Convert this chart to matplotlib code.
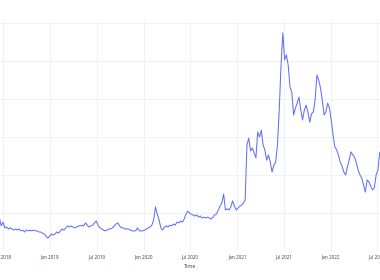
import matplotlib
matplotlib.use("Agg")
import matplotlib.pyplot as plt
import pandas as pd

# weekly observations starting 2018-06-10
start_date = "2018-06-10"
values = [
    8.9, 8.7, 6.6, 7.6, 6.1, 6.3, 5.8, 6.1, 5.8, 5.5,
    5.8, 5.5, 5.8, 5.3, 5.5, 5.0, 5.5, 5.3, 5.5, 5.3,
    5.5, 5.3, 5.3, 5.0, 5.0, 4.7, 4.5, 3.9, 3.4, 3.9,
    4.5, 4.2, 4.5, 5.0, 4.7, 5.3, 5.8, 5.5, 6.1, 6.6,
    6.3, 6.6, 6.3, 6.1, 6.3, 6.6, 6.6, 6.8, 6.6, 7.4,
    6.8, 6.3, 6.6, 6.8, 7.4, 7.9, 6.8, 6.1, 5.8, 5.5,
    5.3, 5.5, 5.8, 5.8, 6.1, 6.6, 7.1, 7.4, 6.6, 6.1,
    6.1, 5.8, 5.8, 5.8, 5.5, 5.3, 5.3, 5.3, 6.1, 5.3,
    5.3, 5.3, 5.5, 5.8, 6.1, 6.3, 6.8, 8.2, 11.6, 9.7,
    8.2, 6.1, 5.5, 6.3, 6.6, 6.3, 6.8, 6.6, 7.1, 6.8,
    7.6, 7.4, 7.9, 7.6, 8.4, 9.7, 10.5, 10.0, 9.7, 9.5,
    9.2, 9.5, 8.9, 9.2, 8.7, 8.9, 8.7, 8.9, 8.7, 8.4,
    8.9, 9.5, 9.7, 10.8, 11.8, 12.6, 15.0, 10.8, 11.1, 10.8,
    11.6, 13.2, 11.8, 10.8, 11.3, 11.8, 12.1, 12.6, 13.4, 27.9,
    29.7, 26.3, 27.1, 25.8, 24.5, 31.3, 30.0, 31.8, 27.9, 26.6,
    23.9, 25.3, 23.4, 20.8, 22.6, 23.4, 27.9, 37.1, 48.9, 57.4,
    50.3, 51.6, 48.9, 43.2, 41.8, 35.8, 37.6, 38.9, 40.5, 37.1,
    34.5, 37.1, 38.4, 36.6, 33.9, 36.1, 36.6, 39.7, 46.3, 45.0,
    42.9, 39.7, 35.8, 36.6, 38.9, 37.6, 34.5, 30.5, 27.4, 26.6,
    25.3, 23.4, 22.4, 20.8, 20.0, 22.1, 23.9, 26.1, 25.3, 24.7,
    23.2, 21.3, 20.0, 19.2, 17.4, 15.5, 18.7, 18.2, 17.1, 16.1,
    16.6, 20.0, 21.3, 25.8, 26.6,
]
dates = pd.date_range(start_date, periods=len(values), freq="7D")

tick_dates = ["2018-07-01", "2019-01-01", "2019-07-01", "2020-01-01",
              "2020-07-01", "2021-01-01", "2021-07-01", "2022-01-01",
              "2022-07-01"]
tick_labels = ["Jul 2018", "Jan 2019", "Jul 2019", "Jan 2020", "Jul 2020",
               "Jan 2021", "Jul 2021", "Jan 2022", "Jul 2022"]
x_range = ["2018-06-19 08:00", "2022-07-11 05:00"]
y_ticks = [0, 10, 20, 30, 40, 50, 60]

fig = plt.figure(figsize=(3.8, 2.8), dpi=100)
ax = fig.add_axes([0, 29 / 280, 1, 231 / 280])
ax.plot(dates, values, color="#636efa", lw=0.75)

ax.set_xlim(pd.Timestamp(x_range[0]), pd.Timestamp(x_range[1]))
ax.set_ylim(0, 60.8)
ax.set_xticks([pd.Timestamp(d) for d in tick_dates])
ax.set_xticklabels(tick_labels)
ax.set_yticks(y_ticks)
ax.tick_params(axis="y", left=False, labelleft=False)
ax.tick_params(axis="x", length=0, pad=2.2, labelsize=3.3, labelcolor="#2a3f5f")
for lab in ax.get_xticklabels():
    lab.set_fontfamily("Open Sans")
ax.grid(True, color="#EBF0F8", lw=0.55)
ax.set_axisbelow(True)
for s in ax.spines.values():
    s.set_visible(False)
ax.set_xlabel("Time", fontsize=3.9, color="#2a3f5f", family="Open Sans", labelpad=3.2)

fig.savefig("out.png", dpi=100)
